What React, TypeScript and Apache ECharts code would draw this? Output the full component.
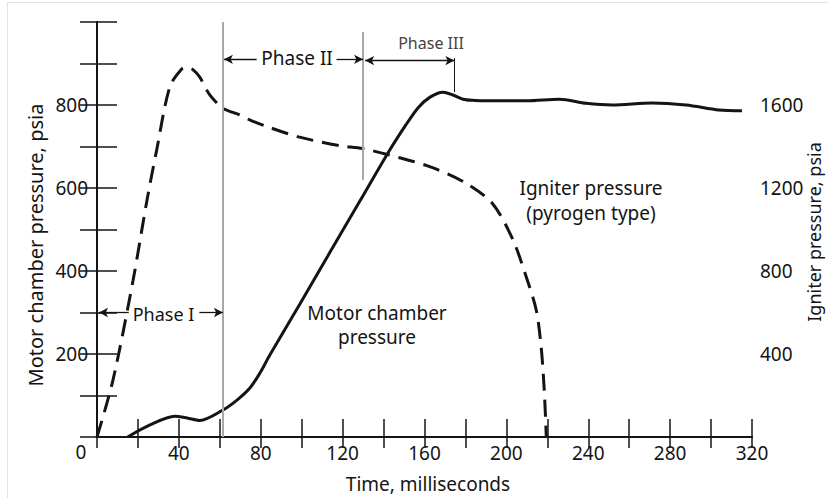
import React, { useEffect, useRef } from "react";
import * as echarts from "echarts";

// Igniter pressure (pyrogen type), psia — right axis
const igniterTime = [0, 7.8, 17.6, 24.4, 29.1, 35.6, 41.5, 44, 46.3, 50.2, 55, 61.5, 69.8, 74.6, 82.8, 99, 118.5, 129.8, 147.8, 163.9, 180.5, 193.2, 203, 209.8, 214.6, 217, 218.5, 219.5];
const igniterPsi = [0, 274, 754, 1140, 1380, 1688, 1775, 1782, 1775, 1734, 1650, 1585, 1552, 1528, 1497, 1445, 1404, 1390, 1346, 1298, 1222, 1125, 955, 769, 611, 433, 226, 0];

// Motor chamber pressure, psia — left axis
const motorTime = [15, 25.9, 38, 44, 50.2, 61.5, 68.4, 74.7, 79.6, 84.5, 99.2, 113.8, 128.5, 143.1, 150.5, 156.8, 162.7, 169, 174, 178.8, 184.7, 190, 209.8, 225.9, 239, 251.7, 271.2, 287.8, 303.9, 315.1];
const motorPsi = [0, 29, 50, 46, 40, 65, 89, 118, 154, 198, 321, 445, 569, 692, 749, 793, 819, 831, 824, 814, 811, 810, 810, 814, 804, 800, 805, 800, 788, 786];

// Axis tick labels
const timeLabels = [0, 40, 80, 120, 160, 200, 240, 280, 320];
const motorLabels = [200, 400, 600, 800];
const igniterLabels = [400, 800, 1200, 1600];

// Phase boundaries (ms) and annotation levels (left-axis psia)
const phaseBounds = [0, 61.5, 130, 174.6];
const phaseLabels = ["Phase I", "Phase II", "Phase III"];
const phaseILevel = 300;
const phaseIILevel = 910;

export default function App() {
  const ref = useRef<HTMLDivElement>(null);
  useEffect(() => {
    document.body.style.margin = "0";
    const chart = echarts.init(ref.current!, null, { renderer: "svg" });
    const font = '"Noto Sans", "Open Sans", sans-serif';
    const ink = "#141414";
    const gray = "#a9a9a9";

    const axisText = { fontSize: 19, fontFamily: font, color: ink };

    const arrowSeg = (x1: number, x2: number, y: number, s1: string, s2: string) => [
      { coord: [x1, y], symbol: s1, lineStyle: { color: ink, width: 1.3, type: "solid" } },
      { coord: [x2, y], symbol: s2 },
    ];
    const vSeg = (x: number, y1: number, y2: number, color: string, width: number) => [
      { coord: [x, y1], symbol: "none", lineStyle: { color, width, type: "solid" } },
      { coord: [x, y2], symbol: "none" },
    ];

    const option: any = {
      animation: false,
      grid: { left: 97, right: 76, top: 22, bottom: 61 },
      xAxis: [
        {
          type: "value",
          min: 0,
          max: 320,
          interval: 20,
          position: "bottom",
          axisLine: { show: true, lineStyle: { color: ink, width: 2 } },
          axisTick: { show: true, inside: true, length: 18, lineStyle: { color: ink, width: 1.5 } },
          axisLabel: {
            ...axisText,
            margin: 6,
            formatter: (v: number) => (v !== 0 && timeLabels.includes(v) ? String(v) : ""),
          },
          splitLine: { show: false },
        },
        {
          type: "value",
          min: 0,
          max: 320,
          interval: 20,
          position: "top",
          axisLine: { show: true, lineStyle: { color: ink, width: 2 } },
          axisTick: { show: true, inside: true, length: 11, lineStyle: { color: ink, width: 1.5 } },
          axisLabel: { show: false },
          splitLine: { show: false },
        },
      ],
      yAxis: [
        {
          type: "value",
          min: 0,
          max: 1000,
          interval: 100,
          position: "left",
          axisLine: { show: true, lineStyle: { color: ink, width: 2 } },
          axisTick: { show: true, inside: true, length: 20, lineStyle: { color: ink, width: 1.5 } },
          axisLabel: {
            ...axisText,
            margin: 9,
            formatter: (v: number) => (motorLabels.includes(v) ? String(v) : ""),
          },
          splitLine: { show: false },
        },
        {
          type: "value",
          min: 0,
          max: 2000,
          interval: 200,
          position: "right",
          axisLine: { show: true, lineStyle: { color: ink, width: 2 } },
          axisTick: { show: true, inside: true, length: 17, lineStyle: { color: ink, width: 1.5 } },
          axisLabel: {
            ...axisText,
            margin: 8,
            formatter: (v: number) => (igniterLabels.includes(v) ? String(v) : ""),
          },
          splitLine: { show: false },
        },
      ],
      series: [
        {
          name: "Igniter pressure",
          type: "line",
          yAxisIndex: 1,
          data: igniterTime.map((t, i) => [t, igniterPsi[i]]),
          symbol: "none",
          smooth: 0.3,
          lineStyle: { color: ink, width: 3, type: [17, 9], cap: "butt" },
          z: 3,
        },
        {
          name: "Motor chamber pressure",
          type: "line",
          yAxisIndex: 0,
          data: motorTime.map((t, i) => [t, motorPsi[i]]),
          symbol: "none",
          smooth: 0.3,
          lineStyle: { color: ink, width: 3 },
          z: 4,
          markLine: {
            silent: true,
            symbolSize: [7, 9],
            label: { show: false },
            data: [
              vSeg(phaseBounds[1], 0, 1000, gray, 2),
              vSeg(phaseBounds[2], 976, 619, gray, 2),
              vSeg(phaseBounds[3], 913, 831, ink, 1),
              arrowSeg(phaseBounds[0] + 1, 15.5, phaseILevel, "arrow", "none"),
              arrowSeg(50, phaseBounds[1], phaseILevel, "none", "arrow"),
              arrowSeg(phaseBounds[1] + 0.5, 78, phaseIILevel, "arrow", "none"),
              arrowSeg(117, phaseBounds[2], phaseIILevel, "none", "arrow"),
              arrowSeg(phaseBounds[2] + 1, phaseBounds[3], phaseIILevel - 3, "arrow", "arrow"),
            ],
          },
        },
      ],
      graphic: [
        {
          type: "rect",
          silent: true,
          shape: { x: 7.5, y: 2.5, width: 840, height: 520 },
          style: { fill: "none", stroke: "#e3e3e3", lineWidth: 1 },
        },
        {
          type: "text",
          x: 81,
          y: 452,
          style: { text: String(timeLabels[0]), fontSize: 19, fontFamily: font, fill: ink, align: "center", verticalAlign: "middle" },
        },
        {
          type: "text",
          x: 428,
          y: 484,
          style: { text: "Time, milliseconds", fontSize: 19, fontFamily: font, fill: ink, align: "center", verticalAlign: "middle" },
        },
        {
          type: "text",
          x: 35,
          y: 245,
          rotation: Math.PI / 2,
          style: { text: "Motor chamber pressure, psia", fontSize: 20, fontFamily: font, fill: ink, align: "center", verticalAlign: "middle" },
        },
        {
          type: "text",
          x: 814,
          y: 232,
          rotation: Math.PI / 2,
          style: { text: "Igniter pressure, psia", fontSize: 18, fontFamily: font, fill: ink, align: "center", verticalAlign: "middle" },
        },
        {
          type: "text",
          x: 163.5,
          y: 314,
          style: { text: phaseLabels[0], fontSize: 18, fontFamily: font, fill: ink, align: "center", verticalAlign: "middle" },
        },
        {
          type: "text",
          x: 297,
          y: 58,
          style: { text: phaseLabels[1], fontSize: 19, fontFamily: font, fill: ink, align: "center", verticalAlign: "middle" },
        },
        {
          type: "text",
          x: 431,
          y: 43,
          style: { text: phaseLabels[2], fontSize: 16, fontFamily: font, fill: "#444", align: "center", verticalAlign: "middle" },
        },
        {
          type: "text",
          x: 377,
          y: 325,
          style: { text: "Motor chamber\npressure", fontSize: 19, fontFamily: font, fill: ink, align: "center", verticalAlign: "middle", lineHeight: 24 },
        },
        {
          type: "text",
          x: 591,
          y: 200,
          style: { text: "Igniter pressure\n(pyrogen type)", fontSize: 19, fontFamily: font, fill: ink, align: "center", verticalAlign: "middle", lineHeight: 25 },
        },
      ],
    };
    chart.setOption(option);
    return () => chart.dispose();
  }, []);
  return <div ref={ref} style={{ width: 828, height: 498 }} />;
}
